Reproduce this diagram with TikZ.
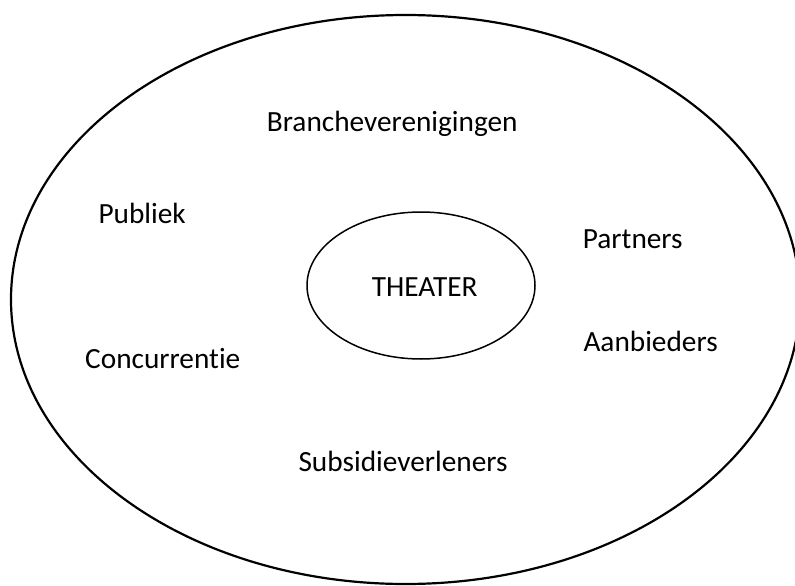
\documentclass[tikz,border=0pt]{standalone}
\usepackage{fontspec}
\setmainfont{Carlito}[RawFeature={-liga}]
\usetikzlibrary{shapes.geometric}
\begin{document}
\begin{tikzpicture}[x=1pt,y=-1pt,
  lbl/.style={anchor=base west,inner sep=0pt,font=\fontsize{29.3}{31}\selectfont},
  ring/.style={draw=black,line width=2.2pt}]
\useasboundingbox (0,0) rectangle (795,586);
\clip (0,0) rectangle (795,586);
\draw[ring] (405.5,299.5) ellipse [x radius=394.5,y radius=284.5];
\node[ring,line width=1.5pt,ellipse,minimum width=228,minimum height=147,inner sep=0pt] (theater) at (421,285.5) {};
\node[lbl] (t) at (371.7,296) {THEATER};
\node[lbl] (b) at (266.7,131.7) {Brancheverenigingen};
\node[lbl] (p) at (98.3,223.3) {Publiek};
\node[lbl] (pa) at (582.7,248.3) {Partners};
\node[lbl] (c) at (85,368) {Concurrentie};
\node[lbl] (a) at (583.3,351.7) {Aanbieders};
\node[lbl] (s) at (298.3,471.7) {Subsidieverleners};
\end{tikzpicture}
\end{document}
